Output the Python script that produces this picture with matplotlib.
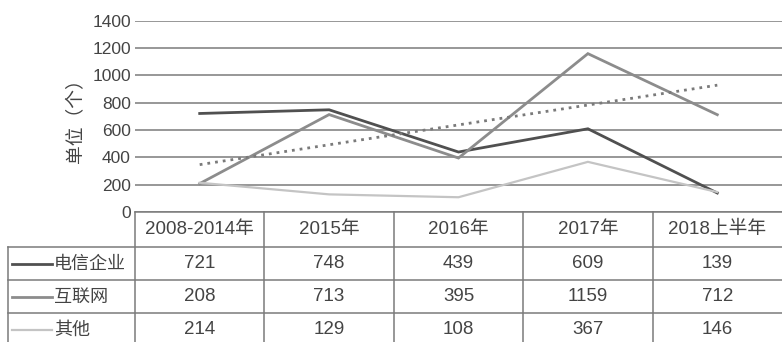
import numpy as np
import matplotlib
matplotlib.use("Agg")
import matplotlib.pyplot as plt

plt.rcParams["font.family"] = ["Liberation Sans", "Noto Sans CJK SC", "DejaVu Sans"]

# ---------------- DATA ----------------
periods = ["2008-2014年", "2015年", "2016年", "2017年", "2018上半年"]
series_names = ["电信企业", "互联网", "其他"]
telecom = [721, 748, 439, 609, 139]
internet = [208, 713, 395, 1159, 712]
others = [214, 129, 108, 367, 146]
y_ticks = [0, 200, 400, 600, 800, 1000, 1200, 1400]

series = [telecom, internet, others]
colors = ["#505050", "#8c8c8c", "#c4c4c4"]
widths = [2.0, 2.0, 1.6]
text_color = "#444444"
grid_color = "#7a7a7a"

W, H = 782, 342
fig = plt.figure(figsize=(W / 100, H / 100), dpi=100)

# plot area (pixel layout of the reference)
left_px, zero_px, top_px = 135, 212, 20.7
ax = fig.add_axes([left_px / W, 1 - zero_px / H, (W - left_px) / W, (zero_px - top_px) / H])
x = np.arange(len(periods))

for vals, c, lw in zip(series, colors, widths):
    ax.plot(x, vals, color=c, lw=lw, solid_joinstyle="miter", zorder=3)

# linear trend of the internet series
k, b = np.polyfit(x, internet, 1)
ax.plot(x, k * x + b, color="#7a7a7a", lw=2.0, linestyle=(0, (1, 1.8)), zorder=4)

ax.set_xlim(-0.5, len(periods) - 0.5)
ax.set_ylim(0, 1400)
ax.set_yticks(y_ticks)
ax.set_xticks([])
for s in ax.spines.values():
    s.set_visible(False)
ax.yaxis.grid(True, color=grid_color, lw=1.1)
ax.set_axisbelow(True)
ax.tick_params(axis="y", length=0, pad=3, labelsize=12.5, labelcolor=text_color)
ax.set_ylabel("单位（个）", fontsize=13.5, color=text_color, labelpad=4,
              family=["Noto Sans CJK SC", "DejaVu Sans"], fontweight="light")

# ---------------- DATA TABLE ----------------
tax = fig.add_axes([left_px / W, 0, (W - left_px) / W, 1 - zero_px / H])
tax.set_xlim(-0.5, len(periods) - 0.5)
table_h = H - zero_px
tax.set_ylim(table_h, 0)
tax.axis("off")

row_h = [35, 33, 33, 33]
edges = np.concatenate([[0], np.cumsum(row_h)])
px_unit = 1.0 / ((W - left_px) / len(periods))
label_left = -0.5 - (left_px - 8) * px_unit
line_kw = dict(color=grid_color, lw=1.1, clip_on=False)

# horizontal lines
tax.plot([-0.5, len(periods) - 0.5], [edges[0]] * 2, **line_kw)
for e in edges[1:]:
    tax.plot([label_left, len(periods) - 0.5], [e] * 2, **line_kw)
# vertical lines
for i in range(len(periods)):
    tax.plot([i - 0.5] * 2, [edges[0], edges[-1]], **line_kw)
tax.plot([label_left] * 2, [edges[1], edges[-1]], **line_kw)

fs = 13.5
for i, p in enumerate(periods):
    tax.text(i, (edges[0] + edges[1]) / 2, p, ha="center", va="center",
             fontsize=fs, color=text_color, clip_on=False)

for r, (name, vals, c, lw) in enumerate(zip(series_names, series, colors, widths)):
    yc = (edges[r + 1] + edges[r + 2]) / 2
    x0 = label_left + 4 * px_unit
    x1 = x0 + 40 * px_unit
    tax.plot([x0, x1], [yc, yc], color=c, lw=lw, clip_on=False)
    tax.text(x1 + 2 * px_unit, yc, name, ha="left", va="center",
             fontsize=13, color=text_color, clip_on=False,
             family=["Noto Sans CJK SC", "DejaVu Sans"], fontweight="light")
    for i, v in enumerate(vals):
        tax.text(i, yc, str(v), ha="center", va="center",
                 fontsize=fs, color=text_color, clip_on=False)

fig.savefig("out.png", dpi=100, facecolor="white")
